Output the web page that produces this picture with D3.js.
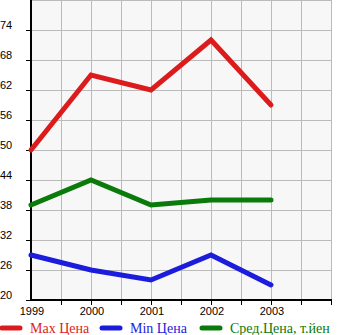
<!DOCTYPE html>
<html><head><meta charset="utf-8">
<script src="https://cdn.jsdelivr.net/npm/d3@7"></script>
<style>body{margin:0;background:#fff}svg{display:block}</style>
</head><body><svg id="c" width="345" height="335"></svg>
<script>
const years = [1999, 2000, 2001, 2002, 2003];
const maxPrice = [50, 65, 62, 72, 59];
const minPrice = [29, 26, 24, 29, 23];
const avgPrice = [39, 44, 39, 40, 40];
const yTicks = [20, 26, 32, 38, 44, 50, 56, 62, 68, 74];
const seriesNames = ["Max Цена", "Min Цена", "Сред.Цена, т.йен"];
const seriesColors = ["#dc1c1c", "#1c1cdc", "#0a7a0a"];

const svg = d3.select("#c");
const L = 31, R = 331, T = 0, B = 300;
const x = d3.scaleLinear().domain([1999, 2004]).range([L, R]);
const y = d3.scaleLinear().domain([20, 80]).range([B, T]);

svg.append("rect").attr("x", L).attr("y", T).attr("width", R - L).attr("height", B - T).attr("fill", "#f7f7f7");
const g = svg.append("g").attr("stroke", "#bbb").attr("stroke-width", 1).attr("shape-rendering", "crispEdges");
d3.range(1999, 2004.01, 0.5).forEach(v => {
  g.append("line").attr("x1", x(v) + 0.5).attr("x2", x(v) + 0.5).attr("y1", T).attr("y2", B);
});
d3.range(20, 80.01, 6).forEach(v => {
  g.append("line").attr("x1", L).attr("x2", R).attr("y1", y(v) + 0.5).attr("y2", y(v) + 0.5);
});

// axes
const ax = svg.append("g").attr("stroke", "#000").attr("shape-rendering", "crispEdges");
ax.append("line").attr("x1", L).attr("x2", L).attr("y1", 0).attr("y2", B + 1).attr("stroke-width", 2);
ax.append("line").attr("x1", L - 1).attr("x2", R + 1).attr("y1", B).attr("y2", B).attr("stroke-width", 2);
yTicks.forEach(v => {
  ax.append("line").attr("x1", L - 5).attr("x2", L).attr("y1", y(v) + 0.5).attr("y2", y(v) + 0.5);
});
d3.range(1999.5, 2004.01, 0.5).forEach(v => {
  ax.append("line").attr("x1", x(v) + 0.5).attr("x2", x(v) + 0.5).attr("y1", B).attr("y2", B + 5);
});

svg.append("g").selectAll("text").data(yTicks).join("text")
  .attr("x", 0).attr("y", v => y(v) - 1)
  .attr("font-family", "Liberation Sans, Arial, sans-serif").attr("font-size", 11)
  .attr("fill", "#000").text(d => d);
svg.append("g").selectAll("text").data(years).join("text")
  .attr("x", v => x(v) + 1).attr("y", 315).attr("text-anchor", "middle")
  .attr("font-family", "Liberation Sans, Arial, sans-serif").attr("font-size", 11)
  .attr("fill", "#000").text(d => d);

const line = d3.line().x((d, i) => x(years[i])).y(d => y(d));
[maxPrice, minPrice, avgPrice].forEach((s, k) => {
  svg.append("path").attr("d", line(s)).attr("fill", "none")
    .attr("stroke", seriesColors[k]).attr("stroke-width", 5)
    .attr("stroke-linecap", "round").attr("stroke-linejoin", "miter");
});

// legend
const lx = [0, 100, 200];
seriesNames.forEach((n, k) => {
  svg.append("line").attr("x1", lx[k] + 2).attr("x2", lx[k] + 20).attr("y1", 328).attr("y2", 328)
    .attr("stroke", seriesColors[k]).attr("stroke-width", 5).attr("stroke-linecap", "round");
  svg.append("text").attr("x", lx[k] + 30).attr("y", 333)
    .attr("font-family", "Liberation Serif, Times New Roman, serif").attr("font-size", 14)
    .attr("fill", seriesColors[k]).text(n);
});
</script></body></html>
